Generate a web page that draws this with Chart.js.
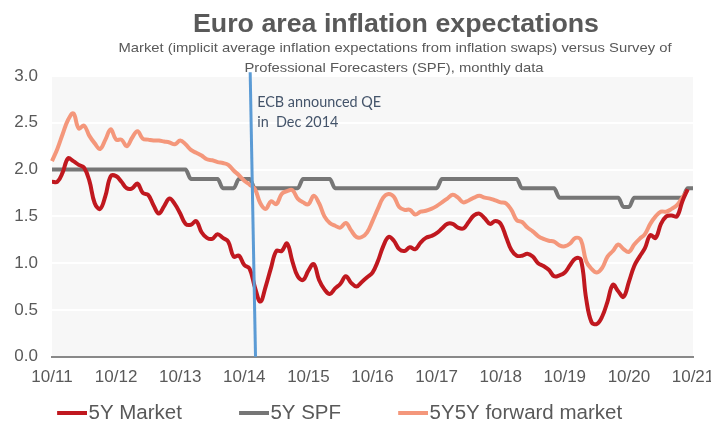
<!DOCTYPE html>
<html>
<head>
<meta charset="utf-8">
<script src="https://cdn.jsdelivr.net/npm/chart.js@4.4.1/dist/chart.umd.min.js"></script>
<style>
html,body{margin:0;padding:0;background:#ffffff;}
#wrap{width:711px;height:421px;}
</style>
</head>
<body>
<div id="wrap"><canvas id="c" width="711" height="421"></canvas></div>
<script>
// ---------- data ----------
const chartTitle = 'Euro area inflation expectations';
const subtitleLines = [
  'Market (implicit average inflation expectations from inflation swaps) versus Survey of',
  'Professional Forecasters (SPF), monthly data'
];
const seriesNames = ['5Y Market', '5Y SPF', '5Y5Y forward market'];
const tickLabels = ['10/11','10/12','10/13','10/14','10/15','10/16','10/17','10/18','10/19','10/20','10/21'];

// monthly categories, Oct 2011 .. Oct 2021
const categories = [];
for (let i = 0; i <= 120; i++) {
  const mm = (9 + i) % 12 + 1;
  const yy = 11 + Math.floor((9 + i) / 12);
  categories.push(mm + '/' + yy);
}

const market5y = [
  1.87,1.87,1.97,2.12,2.09,2.05,2.02,1.88,1.64,1.58,1.72,1.93,
  1.93,1.87,1.80,1.80,1.85,1.75,1.73,1.62,1.53,1.61,1.69,1.63,
  1.53,1.42,1.41,1.45,1.33,1.27,1.26,1.31,1.27,1.23,1.07,1.08,
  0.98,0.94,0.74,0.59,0.75,0.95,1.13,1.13,1.21,1.02,0.86,0.82,
  0.92,0.99,0.82,0.72,0.67,0.73,0.78,0.86,0.79,0.75,0.80,0.85,
  0.90,1.02,1.18,1.28,1.24,1.15,1.13,1.17,1.15,1.22,1.27,1.29,
  1.32,1.37,1.42,1.42,1.38,1.37,1.44,1.51,1.53,1.48,1.42,1.45,
  1.42,1.28,1.14,1.08,1.08,1.10,1.07,1.00,0.97,0.93,0.86,0.87,
  0.90,0.98,1.05,1.04,0.62,0.37,0.35,0.43,0.59,0.77,0.70,0.64,
  0.80,0.97,1.07,1.16,1.30,1.27,1.42,1.50,1.51,1.50,1.66,1.79,
  null
];

const spf5y = [
  2.0,2.0,2.0,2.0,2.0,2.0,2.0,2.0,2.0,2.0,2.0,2.0,
  2.0,2.0,2.0,2.0,2.0,2.0,2.0,2.0,2.0,2.0,2.0,2.0,
  2.0,2.0,1.9,1.9,1.9,1.9,1.9,1.9,1.8,1.8,1.8,1.9,
  1.9,1.9,1.8,1.8,1.8,1.8,1.8,1.8,1.8,1.8,1.8,1.9,
  1.9,1.9,1.9,1.9,1.9,1.8,1.8,1.8,1.8,1.8,1.8,1.8,
  1.8,1.8,1.8,1.8,1.8,1.8,1.8,1.8,1.8,1.8,1.8,1.8,
  1.8,1.9,1.9,1.9,1.9,1.9,1.9,1.9,1.9,1.9,1.9,1.9,
  1.9,1.9,1.9,1.9,1.8,1.8,1.8,1.8,1.8,1.8,1.8,1.7,
  1.7,1.7,1.7,1.7,1.7,1.7,1.7,1.7,1.7,1.7,1.7,1.6,
  1.6,1.7,1.7,1.7,1.7,1.7,1.7,1.7,1.7,1.7,1.7,1.8,
  1.8
];

const forward5y5y = [
  2.09,2.22,2.38,2.53,2.60,2.44,2.47,2.36,2.28,2.22,2.32,2.43,
  2.32,2.32,2.25,2.34,2.41,2.33,2.32,2.31,2.31,2.30,2.29,2.27,
  2.31,2.27,2.21,2.18,2.15,2.11,2.10,2.08,2.07,2.05,1.99,1.94,
  1.88,1.84,1.79,1.64,1.58,1.66,1.63,1.74,1.77,1.78,1.69,1.65,
  1.63,1.72,1.64,1.50,1.43,1.40,1.38,1.43,1.35,1.28,1.28,1.33,
  1.45,1.58,1.70,1.74,1.71,1.60,1.57,1.57,1.52,1.55,1.56,1.58,
  1.61,1.65,1.69,1.73,1.70,1.65,1.67,1.70,1.72,1.70,1.69,1.67,
  1.65,1.64,1.57,1.46,1.44,1.38,1.34,1.29,1.26,1.24,1.23,1.19,
  1.18,1.21,1.27,1.25,1.02,0.94,0.90,0.95,1.07,1.13,1.20,1.15,
  1.12,1.20,1.26,1.31,1.42,1.50,1.55,1.55,1.58,1.62,1.70,1.78,
  null
];

// QE announcement marker (category index / value units)
const qeLine = { topIndex: 37.1, bottomIndex: 38.1, topValue: 3.04, bottomValue: 0 };
const qeText = ['ECB announced QE', 'in  Dec 2014'];

// ---------- styling ----------
const colors = { market: '#c0181f', spf: '#767676', forward: '#f4977b' };
const textGrey = '#595959';
const sansFamily = '"Liberation Sans", Arial, sans-serif';

// draw text at a given font size, squeezed horizontally to a target width (narrow-font look)
function squeezeScale(ctx, text, font, width) {
  ctx.font = font;
  return width / ctx.measureText(text).width;
}
function drawSqueezed(ctx, text, x, y, font, sx, align) {
  ctx.save();
  ctx.font = font;
  ctx.textAlign = align;
  ctx.textBaseline = 'alphabetic';
  ctx.translate(x, y);
  ctx.scale(sx, 1);
  ctx.fillText(text, 0, 0);
  ctx.restore();
}

const plotBg = {
  id: 'plotBg',
  beforeDraw(chart) {
    const { ctx, chartArea: a } = chart;
    ctx.save();
    ctx.fillStyle = '#f7f7f7';
    ctx.fillRect(a.left, a.top, a.right - a.left, a.bottom - a.top);
    ctx.restore();
  }
};

const header = {
  id: 'header',
  afterDraw(chart) {
    const ctx = chart.ctx;
    ctx.save();
    ctx.fillStyle = textGrey;
    const tFont = 'bold 25.6px ' + sansFamily;
    const tsx = squeezeScale(ctx, chartTitle, tFont, 406);
    drawSqueezed(ctx, chartTitle, 396, 32.3, tFont, tsx, 'center');
    const sFont = 'normal 13.6px ' + sansFamily;
    const ssx = squeezeScale(ctx, subtitleLines[0], sFont, 553);
    drawSqueezed(ctx, subtitleLines[0], 395, 52.3, sFont, ssx, 'center');
    drawSqueezed(ctx, subtitleLines[1], 394, 71.5, sFont, ssx, 'center');
    ctx.restore();
  }
};

const qeMarker = {
  id: 'qeMarker',
  afterDatasetsDraw(chart) {
    const { ctx, scales: { x, y } } = chart;
    const x1 = x.getPixelForValue(qeLine.topIndex);
    const y1 = y.getPixelForValue(qeLine.topValue);
    const x2 = x.getPixelForValue(qeLine.bottomIndex);
    const y2 = y.getPixelForValue(qeLine.bottomValue);
    ctx.save();
    ctx.strokeStyle = '#5b9bd5';
    ctx.lineWidth = 3;
    ctx.beginPath();
    ctx.moveTo(x1, y1);
    ctx.lineTo(x2, y2);
    ctx.stroke();
    const font = 'normal 15.5px Lato, "Open Sans", sans-serif';
    const sx = squeezeScale(ctx, qeText[0], font, 124);
    ctx.fillStyle = '#44546a';
    drawSqueezed(ctx, qeText[0], x1 + 7, y1 + 34.5, font, sx, 'left');
    drawSqueezed(ctx, qeText[1], x1 + 7, y1 + 54.5, font, sx, 'left');
    ctx.restore();
  }
};

// legend marker: a 30px bar placed just before the text
const legendFontSize = 20.5;
const legendPad = 6;
const legendBox = 72.25;
function legendMarker(color) {
  const c = document.createElement('canvas');
  const w = Math.round(legendBox + legendFontSize - 3);
  c.width = w;
  c.height = 4;
  const g = c.getContext('2d');
  g.fillStyle = color;
  g.fillRect(w - 30, 0, 30, 4);
  return c;
}

const ctx = document.getElementById('c').getContext('2d');
new Chart(ctx, {
  type: 'line',
  data: {
    labels: categories,
    datasets: [
      { label: seriesNames[0], data: market5y, borderColor: colors.market, backgroundColor: colors.market,
        borderWidth: 4, pointRadius: 0, tension: 0.4, order: 0, spanGaps: false },
      { label: seriesNames[1], data: spf5y, borderColor: colors.spf, backgroundColor: colors.spf,
        borderWidth: 4, pointRadius: 0, cubicInterpolationMode: 'monotone', order: 2 },
      { label: seriesNames[2], data: forward5y5y, borderColor: colors.forward, backgroundColor: colors.forward,
        borderWidth: 4, pointRadius: 0, tension: 0.4, order: 1, spanGaps: false }
    ]
  },
  options: {
    responsive: false,
    animation: false,
    devicePixelRatio: 1,
    layout: { padding: { top: 76, left: 0, right: 18, bottom: -12.25 } },
    plugins: {
      title: { display: false },
      tooltip: { enabled: false },
      legend: {
        display: true,
        position: 'bottom',
        align: 'start',
        labels: {
          usePointStyle: true,
          pointStyleWidth: legendBox,
          padding: legendPad,
          color: textGrey,
          font: { family: sansFamily, size: legendFontSize },
          generateLabels(chart) {
            return chart.data.datasets.map((ds, i) => ({
              text: ds.label,
              fillStyle: ds.borderColor,
              strokeStyle: ds.borderColor,
              lineWidth: 0,
              pointStyle: legendMarker(ds.borderColor),
              hidden: false,
              datasetIndex: i,
              fontColor: textGrey
            }));
          }
        }
      }
    },
    scales: {
      x: {
        type: 'category',
        offset: false,
        grid: { display: false, drawTicks: false },
        border: { display: true, color: '#898989', width: 2 },
        ticks: {
          autoSkip: false,
          maxRotation: 0,
          minRotation: 0,
          padding: 10,
          color: textGrey,
          font: { family: sansFamily, size: 17 },
          callback: (v, i) => (i % 12 === 0 ? tickLabels[i / 12] : '')
        },
        afterFit(scale) { scale.height = 40; scale.paddingLeft = 0; scale.paddingRight = 0; }
      },
      y: {
        min: 0,
        max: 3,
        grid: {
          drawTicks: false,
          lineWidth: 2,
          color: (c) => (c.tick && c.tick.value === 0 ? 'rgba(0,0,0,0)' : '#ffffff')
        },
        border: { display: false },
        ticks: {
          stepSize: 0.5,
          padding: 14,
          color: textGrey,
          font: { family: sansFamily, size: 17 },
          callback: (v) => Number(v).toFixed(1)
        },
        afterFit(scale) { scale.width = 52; }
      }
    }
  },
  plugins: [plotBg, header, qeMarker]
});
</script>
</body>
</html>
